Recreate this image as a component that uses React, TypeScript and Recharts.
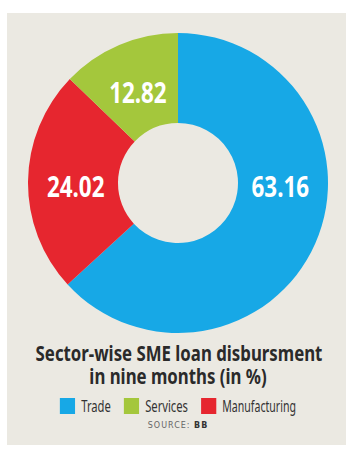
import React from "react";
import { PieChart, Pie, Cell, Legend } from "recharts";

const categories = ["Trade", "Manufacturing", "Services"];
const shares = [63.16, 24.02, 12.82];
const colors = ["#17A8E6", "#E6262F", "#A4C73C"];
const legendOrder = ["Trade", "Services", "Manufacturing"];
const titleLines = ["Sector-wise SME loan disbursment", "in nine months (in %)"];
const sourceLabel = "SOURCE:";
const sourceName = "BB";

const data = categories.map((name, i) => ({ name, value: shares[i], color: colors[i] }));

const FONT = "'Noto Sans', 'Open Sans', sans-serif";
const RAD = Math.PI / 180;
const LABEL_SQUEEZE = 0.8;
const TITLE_SQUEEZE = 0.8;
const LEGEND_SQUEEZE = 0.66;

const renderLabel = (props: any) => {
  const { cx, cy, midAngle, innerRadius, outerRadius, startAngle, endAngle, value } = props;
  const lo = Math.min(startAngle, endAngle);
  const hi = Math.max(startAngle, endAngle);
  let angle = midAngle;
  const contains = (a: number) => {
    for (let k = -2; k <= 2; k++) {
      const t = a + 360 * k;
      if (t >= lo && t <= hi) return true;
    }
    return false;
  };
  if (contains(0)) angle = 0;
  else if (contains(180)) angle = 180;
  const r = innerRadius + (outerRadius - innerRadius) * 0.47;
  const x = cx + r * Math.cos(-angle * RAD);
  const y = cy + r * Math.sin(-angle * RAD);
  return (
    <text
      x={0}
      y={0}
      transform={`translate(${x},${y + 3}) scale(${LABEL_SQUEEZE},1)`}
      fill="#ffffff"
      textAnchor="middle"
      dominantBaseline="central"
      style={{ fontFamily: FONT, fontWeight: 700, fontSize: 28 }}
    >
      {value.toFixed(2)}
    </text>
  );
};

const renderLegend = () => {
  const items = legendOrder.map((n) => data.find((d) => d.name === n)!);
  return (
    <div
      style={{
        display: "flex",
        justifyContent: "center",
        alignItems: "center",
        fontFamily: FONT,
        transform: `scaleX(${LEGEND_SQUEEZE})`,
        transformOrigin: "center",
        whiteSpace: "nowrap",
      }}
    >
      {items.map((it, i) => (
        <div
          key={it.name}
          style={{ display: "flex", alignItems: "center", marginRight: i < items.length - 1 ? 20 : 0, flexShrink: 0 }}
        >
          <div style={{ width: 23, height: 16, background: it.color, marginRight: 9, flexShrink: 0 }} />
          <span
            style={{
              fontSize: it.name === "Manufacturing" ? 16 : 17,
              color: "#333",
              lineHeight: "16px",
            }}
          >
            {it.name}
          </span>
        </div>
      ))}
    </div>
  );
};

export default function App() {
  return (
    <div style={{ position: "absolute", left: 0, top: 0, width: 356, height: 453, background: "#ffffff" }}>
      <div style={{ position: "absolute", left: 7, top: 13, width: 339, height: 432, background: "#EBE9E2" }} />
      <div style={{ position: "absolute", left: 0, top: 0 }}>
        <PieChart width={356} height={453} margin={{ top: 0, right: 0, bottom: 0, left: 0 }}>
          <Pie
            data={data}
            dataKey="value"
            nameKey="name"
            cx={178}
            cy={183}
            innerRadius={60}
            outerRadius={150}
            startAngle={90}
            endAngle={-270}
            stroke="none"
            label={renderLabel}
            labelLine={false}
            isAnimationActive={false}
          >
            {data.map((d) => (
              <Cell key={d.name} fill={d.color} />
            ))}
          </Pie>
          <Legend
            content={renderLegend}
            wrapperStyle={{ position: "absolute", top: 398, left: 0, width: 356, height: 16 }}
          />
        </PieChart>
      </div>
      <div
        style={{
          position: "absolute",
          left: 0,
          top: 342,
          width: 356,
          textAlign: "center",
          fontFamily: FONT,
          fontWeight: 700,
          fontSize: 21,
          lineHeight: "23px",
          color: "#2A2A2A",
          whiteSpace: "nowrap",
          transform: `scaleX(${TITLE_SQUEEZE})`,
          transformOrigin: "center",
        }}
      >
        {titleLines.map((l) => (
          <div key={l}>{l}</div>
        ))}
      </div>
      <div
        style={{
          position: "absolute",
          left: 0,
          top: 420,
          width: 356,
          textAlign: "center",
          fontFamily: "'DejaVu Sans', sans-serif",
          fontSize: 8,
          lineHeight: "12px",
          letterSpacing: 1,
          color: "#666",
        }}
      >
        {sourceLabel} <b style={{ color: "#333" }}>{sourceName}</b>
      </div>
    </div>
  );
}
